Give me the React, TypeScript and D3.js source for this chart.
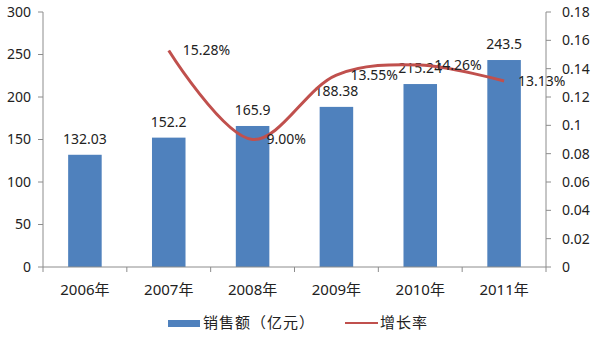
import React from "react";
import * as d3 from "d3";

const years = ["2006年", "2007年", "2008年", "2009年", "2010年", "2011年"];
const sales = [132.03, 152.2, 165.9, 188.38, 215.24, 243.5];
const growthYears = ["2007年", "2008年", "2009年", "2010年", "2011年"];
const growth = [0.1528, 0.09, 0.1355, 0.1426, 0.1313];
const growthLabels = ["15.28%", "9.00%", "13.55%", "14.26%", "13.13%"];
const leftTicks = [0, 50, 100, 150, 200, 250, 300];
const rightTicks = [0, 0.02, 0.04, 0.06, 0.08, 0.1, 0.12, 0.14, 0.16, 0.18];

const W = 600, H = 337;
const left = 43, right = 546, top = 12, bottom = 267;
const FONT = "'Noto Sans', 'Noto Sans CJK SC', sans-serif";
const BLUE = "#4f81bd";
const RED = "#c0504d";
const AXIS = "#8c8c8c";

export default function App() {
  const x = d3.scaleBand<string>().domain(years).range([left, right]).paddingInner(0.6).paddingOuter(0.3);
  const yL = d3.scaleLinear().domain([0, 300]).range([bottom, top]);
  const yR = d3.scaleLinear().domain([0, 0.18]).range([bottom, top]);
  const cx = (c: string) => (x(c) as number) + x.bandwidth() / 2;
  const line = d3
    .line<number>()
    .x((_, i) => cx(growthYears[i]))
    .y((d) => yR(d))
    .curve(d3.curveCatmullRom.alpha(0.5));
  const boundaries = d3.range(years.length + 1).map((i) => left + i * ((right - left) / years.length));

  return (
    <svg width={W} height={H} style={{ position: "absolute", left: 0, top: 0, background: "#fff" }} fontFamily={FONT}>
      {/* bars */}
      {years.map((c, i) => (
        <rect key={c} x={x(c)} y={yL(sales[i])} width={x.bandwidth()} height={bottom - yL(sales[i])} fill={BLUE} />
      ))}
      {/* axes */}
      <line x1={left} x2={left} y1={top} y2={bottom} stroke={AXIS} />
      <line x1={right} x2={right} y1={top} y2={bottom} stroke={AXIS} />
      <line x1={left} x2={right} y1={bottom} y2={bottom} stroke={AXIS} />
      {leftTicks.map((t) => (
        <g key={"l" + t}>
          <line x1={left - 5} x2={left} y1={yL(t)} y2={yL(t)} stroke={AXIS} />
          <text x={left - 12} y={yL(t)} dy="0.35em" textAnchor="end" fontSize={14} fill="#222">{t}</text>
        </g>
      ))}
      {rightTicks.map((t) => (
        <g key={"r" + t}>
          <line x1={right} x2={right + 5} y1={yR(t)} y2={yR(t)} stroke={AXIS} />
          <text x={right + 16} y={yR(t)} dy="0.35em" textAnchor="start" fontSize={14} fill="#222">{d3.format("~g")(t)}</text>
        </g>
      ))}
      {boundaries.map((b, i) => (
        <line key={"b" + i} x1={b} x2={b} y1={bottom} y2={bottom + 5} stroke={AXIS} />
      ))}
      {years.map((c) => (
        <text key={"x" + c} x={cx(c)} y={290} dy="0.35em" textAnchor="middle" fontSize={15} fill="#222">{c}</text>
      ))}
      {/* bar labels */}
      {years.map((c, i) => (
        <text key={"v" + c} x={cx(c)} y={yL(sales[i]) - 16} dy="0.35em" textAnchor="middle" fontSize={14} fill="#222">{sales[i]}</text>
      ))}
      {/* growth line */}
      <path d={line(growth) || ""} fill="none" stroke={RED} strokeWidth={3} />
      {growthYears.map((c, i) => (
        <text key={"g" + c} x={cx(c) + 14} y={yR(growth[i])} dy="0.35em" textAnchor="start" fontSize={14} fill="#222">{growthLabels[i]}</text>
      ))}
      {/* legend */}
      <rect x={168} y={320} width={32} height={7} fill={BLUE} />
      <text x={203} y={323} dy="0.35em" fontSize={15} letterSpacing={1} fill="#222">销售额（亿元）</text>
      <line x1={345} x2={378} y1={323} y2={323} stroke={RED} strokeWidth={2} />
      <text x={380} y={323} dy="0.35em" fontSize={15} letterSpacing={1} fill="#222">增长率</text>
    </svg>
  );
}
